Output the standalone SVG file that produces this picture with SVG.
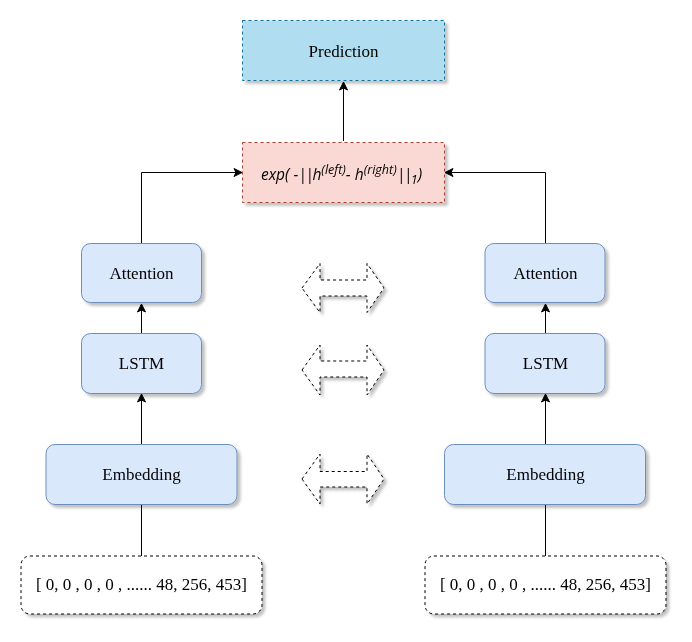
<svg xmlns="http://www.w3.org/2000/svg" width="692" height="642" viewBox="0 0 692 642">
<style>
.lbl{font-family:"Liberation Serif",serif;font-size:17px;fill:#000;text-anchor:middle;dominant-baseline:central}
.blue{fill:#dae8fc;stroke:#6c8ebf;stroke-width:1}
.inp{fill:#fff;stroke:#000;stroke-width:1;stroke-dasharray:3 3}
.dbl{fill:#fff;stroke:#000;stroke-width:1;stroke-dasharray:3 3}
.edge{fill:none;stroke:#000;stroke-width:1}
.sh{filter:url(#shadow)}
.bar{letter-spacing:-1.5px}
</style>
<defs>
<filter id="shadow" x="-20%" y="-20%" width="140%" height="140%">
<feGaussianBlur in="SourceAlpha" stdDeviation="1.5"/>
<feOffset dx="3" dy="3" result="o"/>
<feComponentTransfer><feFuncA type="linear" slope="0.25"/></feComponentTransfer>
<feMerge><feMergeNode/><feMergeNode in="SourceGraphic"/></feMerge>
</filter>
<marker id="arr" viewBox="0 0 10 10" refX="9" refY="5" markerWidth="10" markerHeight="10" markerUnits="userSpaceOnUse" orient="auto">
<path d="M1,1 L9,5 L1,9 L3,5 Z" fill="#000" stroke="#000" stroke-width="1"/>
</marker>
</defs>

<g id="edges">
<path class="edge" d="M343.5,141 V82" marker-end="url(#arr)"/>
<path class="edge" d="M141.5,243 V172.5 H242" marker-end="url(#arr)"/>
<path class="edge" d="M545.5,243 V172.5 H445" marker-end="url(#arr)"/>
<path class="edge" d="M141.5,333 V304" marker-end="url(#arr)"/>
<path class="edge" d="M545.5,333 V304" marker-end="url(#arr)"/>
<path class="edge" d="M141.5,444 V394" marker-end="url(#arr)"/>
<path class="edge" d="M545.5,444 V394" marker-end="url(#arr)"/>
<path class="edge" d="M141.5,556 V505"/>
<path class="edge" d="M545.5,556 V505"/>
</g>

<g id="prediction" class="sh">
<rect x="242.5" y="20.5" width="202" height="60" fill="#b1ddf0" stroke="#10739e" stroke-dasharray="3 3"/>
<text class="lbl" x="343.5" y="51">Prediction</text>
</g>

<g id="distance" class="sh">
<rect x="242.5" y="142.5" width="202" height="60" fill="#fad9d5" stroke="#ae4132" stroke-dasharray="3 3"/>
<text x="341.5" y="180" text-anchor="middle" style="font-family:'Open Sans','Noto Sans',sans-serif;font-style:italic;font-size:15.5px;fill:#000">exp( -<tspan class="bar">||</tspan>h<tspan dy="-6" font-size="12.5">(left)</tspan><tspan dy="6">- h</tspan><tspan dy="-6" font-size="12.5">(right)</tspan><tspan dy="6" class="bar">||</tspan><tspan dy="4" font-size="12.5">1</tspan><tspan dy="-4">)</tspan></text>
</g>

<g id="attention-left" class="sh">
<rect class="blue" x="81.5" y="243.5" width="120" height="59" rx="9"/>
<text class="lbl" x="141.5" y="273">Attention</text>
</g>
<g id="lstm-left" class="sh">
<rect class="blue" x="81.5" y="333.5" width="120" height="60" rx="9"/>
<text class="lbl" x="141.5" y="363.5">LSTM</text>
</g>
<g id="embedding-left" class="sh">
<rect class="blue" x="46" y="444.5" width="191" height="60" rx="9"/>
<text class="lbl" x="141.5" y="474.5">Embedding</text>
</g>
<g id="input-left" class="sh">
<rect class="inp" x="21" y="556" width="241" height="58" rx="9"/>
<text class="lbl" x="141.5" y="584">[ 0, 0 , 0 , 0 , ...... 48, 256, 453]</text>
</g>

<g id="attention-right" class="sh">
<rect class="blue" x="485" y="243.5" width="120" height="59" rx="9"/>
<text class="lbl" x="545.5" y="273">Attention</text>
</g>
<g id="lstm-right" class="sh">
<rect class="blue" x="485" y="333.5" width="120" height="60" rx="9"/>
<text class="lbl" x="545.5" y="363.5">LSTM</text>
</g>
<g id="embedding-right" class="sh">
<rect class="blue" x="444.5" y="444.5" width="201" height="60" rx="9"/>
<text class="lbl" x="545.5" y="474.5">Embedding</text>
</g>
<g id="input-right" class="sh">
<rect class="inp" x="425" y="556" width="241" height="58" rx="9"/>
<text class="lbl" x="545.5" y="584">[ 0, 0 , 0 , 0 , ...... 48, 256, 453]</text>
</g>

<g id="link-attention" class="sh">
<path class="dbl" d="M302,288 L320,263.5 V280 H367 V263.5 L384,288 L367,312.5 V296 H320 V312.5 Z"/>
</g>
<g id="link-lstm" class="sh">
<path class="dbl" d="M302,370 L320,345 V361 H367 V345 L384,370 L367,395 V377 H320 V395 Z"/>
</g>
<g id="link-embedding" class="sh">
<path class="dbl" d="M302,479 L320,454 V471.5 H367 V454 L384,479 L367,504 V487 H320 V504 Z"/>
</g>
</svg>
